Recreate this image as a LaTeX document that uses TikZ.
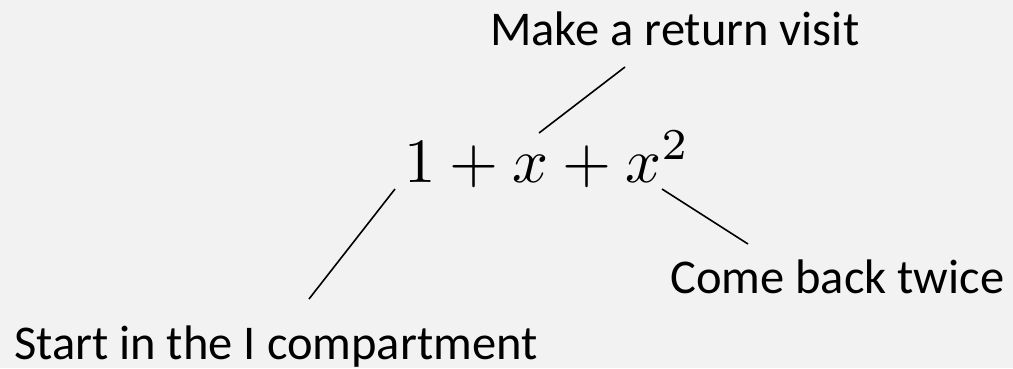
\documentclass[tikz,border=0pt]{standalone}
\usepackage{fontspec}
\setmainfont{Carlito}
\definecolor{bg}{HTML}{F2F2F2}
\begin{document}
\begin{tikzpicture}[x=1pt,y=-1pt,
  lbl/.style={inner sep=0pt,anchor=base west,font=\fontsize{48.5}{58}\selectfont},
  frm/.style={inner sep=0pt,anchor=base west},
  conn/.style={draw=black,line width=1.6pt}]
\fill[bg] (0,0) rectangle (1013,368);
\useasboundingbox (0,0) rectangle (1013,368);
\node[lbl] (top) at (490,45) {Make a return visit};
\node[frm] (eq) at (404,182) {\scalebox{6.3}{$1+x+x^2$}};
\node[lbl] (right) at (670,293) {Come back twice};
\node[lbl] (left) at (14,359) {Start in the I compartment};
\coordinate (a1) at (539,133);
\coordinate (a2) at (625,67);
\coordinate (b1) at (395,189);
\coordinate (b2) at (309,299);
\coordinate (c1) at (662,189);
\coordinate (c2) at (748,244);
\draw[conn] (a1) -- (a2);
\draw[conn] (b1) -- (b2);
\draw[conn] (c1) -- (c2);
\end{tikzpicture}
\end{document}
